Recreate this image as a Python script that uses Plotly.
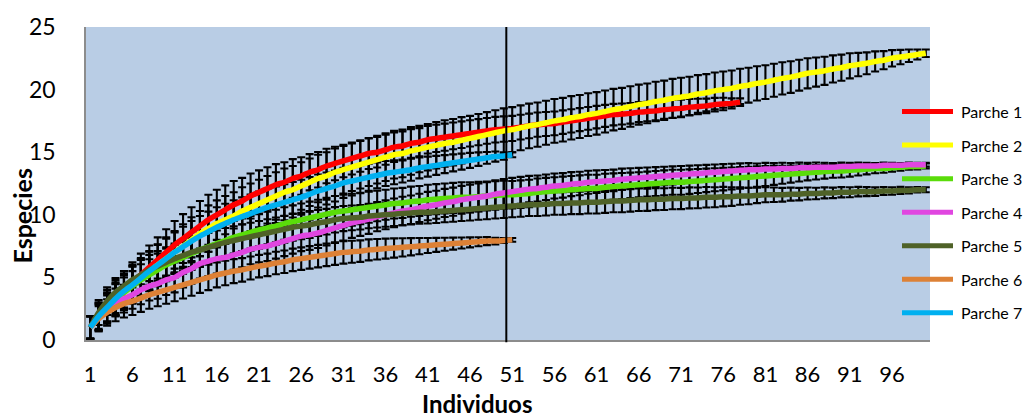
import plotly.graph_objects as go

# Rarefaction curves: expected species vs. number of individuals per patch
parche_1 = [1.0, 1.9, 2.7, 3.4, 4.0, 4.6, 5.2, 5.8, 6.4, 7.0, 7.6, 8.1, 8.6, 9.1, 9.6, 10.0, 10.4, 10.8, 11.1, 11.5,
            11.8, 12.1, 12.4, 12.6, 12.9, 13.1, 13.4, 13.6, 13.9, 14.1, 14.3, 14.5, 14.7, 14.9, 15.0, 15.2, 15.4, 15.5, 15.7, 15.8,
            16.0, 16.1, 16.2, 16.3, 16.4, 16.5, 16.6, 16.7, 16.8, 16.85, 16.9, 17.0, 17.1, 17.2, 17.25, 17.3, 17.4, 17.5, 17.6, 17.7,
            17.8, 17.9, 18.0, 18.05, 18.1, 18.2, 18.25, 18.3, 18.4, 18.45, 18.5, 18.6, 18.65, 18.7, 18.8, 18.85, 18.9, 19.0]
parche_2 = [1.0, 1.8, 2.5, 3.2, 3.8, 4.4, 5.0, 5.5, 6.0, 6.5, 7.0, 7.5, 8.0, 8.5, 8.9, 9.3, 9.6, 9.9, 10.3, 10.6,
            10.9, 11.2, 11.5, 11.8, 12.0, 12.3, 12.6, 12.9, 13.1, 13.4, 13.6, 13.8, 14.0, 14.2, 14.4, 14.6, 14.8, 14.9, 15.1, 15.25,
            15.4, 15.55, 15.7, 15.8, 15.95, 16.1, 16.25, 16.4, 16.55, 16.7, 16.8, 16.95, 17.1, 17.2, 17.35, 17.5, 17.6, 17.75, 17.85, 18.0,
            18.1, 18.25, 18.4, 18.5, 18.65, 18.8, 18.9, 19.05, 19.15, 19.3, 19.4, 19.5, 19.65, 19.75, 19.9, 20.0, 20.1, 20.25, 20.35, 20.5,
            20.6, 20.75, 20.9, 21.0, 21.15, 21.3, 21.4, 21.5, 21.65, 21.75, 21.9, 22.0, 22.1, 22.25, 22.35, 22.5, 22.6, 22.7, 22.8, 22.9]
parche_3 = [1.0, 1.9, 2.6, 3.3, 3.8, 4.3, 4.8, 5.2, 5.6, 6.0, 6.3, 6.6, 6.9, 7.2, 7.45, 7.7, 7.95, 8.2, 8.4, 8.6,
            8.8, 8.95, 9.1, 9.3, 9.45, 9.6, 9.75, 9.9, 10.05, 10.2, 10.3, 10.4, 10.5, 10.6, 10.7, 10.8, 10.9, 10.95, 11.05, 11.1,
            11.2, 11.25, 11.3, 11.35, 11.4, 11.4, 11.45, 11.5, 11.55, 11.6, 11.6, 11.65, 11.7, 11.8, 11.85, 11.9, 11.95, 12.0, 12.05, 12.1,
            12.1, 12.2, 12.25, 12.3, 12.35, 12.4, 12.45, 12.5, 12.55, 12.6, 12.6, 12.65, 12.7, 12.75, 12.8, 12.85, 12.9, 12.95, 13.0, 13.05,
            13.1, 13.15, 13.2, 13.25, 13.3, 13.35, 13.4, 13.45, 13.5, 13.5, 13.55, 13.6, 13.65, 13.7, 13.7, 13.75, 13.8, 13.85, 13.85, 13.9]
parche_4 = [1.0, 1.8, 2.5, 3.0, 3.3, 3.6, 4.0, 4.3, 4.5, 4.8, 5.0, 5.4, 5.7, 6.1, 6.3, 6.5, 6.6, 6.8, 7.0, 7.25,
            7.4, 7.5, 7.7, 7.9, 8.1, 8.3, 8.4, 8.55, 8.75, 8.95, 9.15, 9.35, 9.5, 9.65, 9.85, 10.0, 10.15, 10.3, 10.4, 10.55,
            10.7, 10.8, 10.95, 11.05, 11.2, 11.3, 11.4, 11.5, 11.65, 11.75, 11.85, 11.95, 12.05, 12.1, 12.2, 12.3, 12.35, 12.45, 12.5, 12.6,
            12.65, 12.7, 12.75, 12.85, 12.9, 12.95, 13.0, 13.05, 13.1, 13.15, 13.2, 13.25, 13.3, 13.35, 13.4, 13.45, 13.5, 13.55, 13.6, 13.6,
            13.65, 13.65, 13.7, 13.7, 13.75, 13.75, 13.8, 13.8, 13.8, 13.85, 13.85, 13.9, 13.9, 13.9, 13.95, 13.95, 13.95, 14.0, 14.0, 14.0]
parche_5 = [1.0, 2.2, 3.1, 3.8, 4.3, 4.8, 5.2, 5.6, 5.9, 6.2, 6.5, 6.75, 7.0, 7.2, 7.4, 7.6, 7.8, 7.95, 8.1, 8.25,
            8.4, 8.55, 8.7, 8.85, 9.0, 9.1, 9.2, 9.35, 9.45, 9.6, 9.7, 9.75, 9.8, 9.9, 9.95, 10.0, 10.05, 10.1, 10.15, 10.2,
            10.2, 10.25, 10.3, 10.35, 10.4, 10.45, 10.5, 10.55, 10.6, 10.65, 10.7, 10.75, 10.8, 10.8, 10.85, 10.9, 10.9, 10.95, 10.95, 11.0,
            11.0, 11.05, 11.1, 11.1, 11.15, 11.2, 11.2, 11.25, 11.25, 11.3, 11.3, 11.35, 11.35, 11.4, 11.4, 11.45, 11.45, 11.5, 11.5, 11.55,
            11.6, 11.6, 11.6, 11.65, 11.65, 11.7, 11.7, 11.75, 11.75, 11.8, 11.8, 11.85, 11.85, 11.85, 11.9, 11.9, 11.95, 11.95, 12.0, 12.0]
parche_6 = [1.0, 1.7, 2.2, 2.6, 2.9, 3.1, 3.35, 3.6, 3.8, 4.0, 4.2, 4.4, 4.6, 4.8, 5.0, 5.2, 5.35, 5.5, 5.6, 5.75,
            5.9, 6.0, 6.15, 6.25, 6.4, 6.5, 6.6, 6.7, 6.8, 6.9, 7.0, 7.05, 7.1, 7.2, 7.25, 7.3, 7.35, 7.4, 7.45, 7.5,
            7.55, 7.6, 7.65, 7.7, 7.75, 7.8, 7.85, 7.9, 7.9, 7.95, 8.0]
parche_7 = [1.0, 1.9, 2.6, 3.3, 3.9, 4.4, 4.95, 5.5, 6.0, 6.5, 7.0, 7.45, 7.9, 8.3, 8.65, 9.0, 9.3, 9.6, 9.85, 10.1,
            10.35, 10.6, 10.8, 11.0, 11.2, 11.4, 11.65, 11.9, 12.1, 12.3, 12.55, 12.7, 12.85, 13.0, 13.15, 13.3, 13.4, 13.5, 13.6, 13.75,
            13.85, 13.95, 14.05, 14.15, 14.25, 14.35, 14.45, 14.55, 14.65, 14.7, 14.8]

# Standard deviations drawn as error bars
sd_1 = [0.9, 1.1, 1.3, 1.4, 1.5, 1.6, 1.7, 1.75, 1.8, 1.85, 1.9, 1.95, 2.0, 2.0, 2.0, 2.0, 1.95, 1.9, 1.85, 1.8,
        1.75, 1.7, 1.65, 1.6, 1.55, 1.5, 1.45, 1.42, 1.38, 1.34, 1.3, 1.28, 1.26, 1.24, 1.22, 1.2, 1.18, 1.16, 1.14, 1.12,
        1.1, 1.09, 1.08, 1.07, 1.06, 1.05, 1.04, 1.03, 1.02, 1.01, 1.0, 0.99, 0.98, 0.97, 0.96, 0.95, 0.94, 0.93, 0.92, 0.91,
        0.9, 0.88, 0.86, 0.84, 0.82, 0.8, 0.78, 0.76, 0.74, 0.72, 0.7, 0.66, 0.62, 0.58, 0.54, 0.5, 0.4, 0.3]
sd_2 = [0.9, 1.1, 1.2, 1.3, 1.4, 1.5, 1.55, 1.6, 1.65, 1.7, 1.7, 1.75, 1.8, 1.8, 1.85, 1.85, 1.9, 1.9, 1.9, 1.9,
        1.9, 1.9, 1.9, 1.9, 1.9, 1.9, 1.9, 1.9, 1.9, 1.9, 1.9, 1.9, 1.9, 1.9, 1.9, 1.9, 1.9, 1.9, 1.9, 1.85,
        1.85, 1.85, 1.85, 1.85, 1.85, 1.8, 1.8, 1.8, 1.8, 1.8, 1.8, 1.79, 1.78, 1.77, 1.76, 1.75, 1.74, 1.73, 1.72, 1.71,
        1.7, 1.68, 1.66, 1.64, 1.62, 1.6, 1.59, 1.58, 1.57, 1.56, 1.55, 1.53, 1.51, 1.49, 1.47, 1.45, 1.43, 1.41, 1.39, 1.37,
        1.35, 1.32, 1.29, 1.26, 1.23, 1.2, 1.16, 1.12, 1.08, 1.04, 1.0, 0.93, 0.87, 0.8, 0.72, 0.65, 0.57, 0.5, 0.4, 0.3]
sd_3 = [0.9, 1.0, 1.1, 1.15, 1.2, 1.2, 1.25, 1.25, 1.3, 1.3, 1.3, 1.3, 1.3, 1.3, 1.3, 1.3, 1.3, 1.3, 1.3, 1.3,
        1.3, 1.3, 1.3, 1.3, 1.3, 1.3, 1.3, 1.3, 1.3, 1.3, 1.3, 1.28, 1.26, 1.24, 1.22, 1.2, 1.2, 1.2, 1.2, 1.2,
        1.2, 1.2, 1.2, 1.2, 1.2, 1.2, 1.18, 1.16, 1.14, 1.12, 1.1, 1.1, 1.1, 1.1, 1.1, 1.1, 1.1, 1.1, 1.1, 1.1,
        1.1, 1.08, 1.06, 1.04, 1.02, 1.0, 1.0, 1.0, 1.0, 1.0, 1.0, 0.98, 0.96, 0.94, 0.92, 0.9, 0.88, 0.86, 0.84, 0.82,
        0.8, 0.76, 0.72, 0.68, 0.64, 0.6, 0.58, 0.56, 0.54, 0.52, 0.5, 0.46, 0.42, 0.38, 0.34, 0.3, 0.28, 0.25, 0.22, 0.2]
sd_4 = [0.9, 1.0, 1.05, 1.1, 1.1, 1.1, 1.15, 1.15, 1.2, 1.2, 1.2, 1.2, 1.2, 1.2, 1.2, 1.2, 1.2, 1.2, 1.2, 1.2,
        1.2, 1.2, 1.2, 1.2, 1.2, 1.2, 1.2, 1.2, 1.2, 1.2, 1.2, 1.19, 1.18, 1.17, 1.16, 1.15, 1.15, 1.14, 1.14, 1.13,
        1.13, 1.12, 1.12, 1.12, 1.11, 1.11, 1.11, 1.1, 1.1, 1.1, 1.1, 1.08, 1.06, 1.04, 1.02, 1.0, 0.98, 0.96, 0.94, 0.92,
        0.9, 0.88, 0.86, 0.84, 0.82, 0.8, 0.78, 0.76, 0.74, 0.72, 0.7, 0.68, 0.66, 0.64, 0.62, 0.6, 0.58, 0.56, 0.53, 0.5,
        0.5, 0.48, 0.46, 0.44, 0.42, 0.4, 0.38, 0.36, 0.34, 0.32, 0.3, 0.28, 0.26, 0.24, 0.22, 0.2, 0.19, 0.18, 0.16, 0.15]
sd_5 = [0.9, 1.0, 1.1, 1.15, 1.2, 1.2, 1.2, 1.2, 1.2, 1.2, 1.2, 1.19, 1.18, 1.17, 1.16, 1.15, 1.14, 1.13, 1.12, 1.11,
        1.1, 1.09, 1.08, 1.07, 1.06, 1.05, 1.04, 1.03, 1.02, 1.01, 1.0, 0.99, 0.98, 0.97, 0.96, 0.95, 0.94, 0.93, 0.92, 0.91,
        0.9, 0.9, 0.9, 0.9, 0.9, 0.9, 0.9, 0.9, 0.9, 0.9, 0.9, 0.9, 0.9, 0.9, 0.9, 0.9, 0.9, 0.9, 0.9, 0.9,
        0.9, 0.9, 0.9, 0.9, 0.9, 0.9, 0.89, 0.88, 0.87, 0.86, 0.85, 0.84, 0.83, 0.82, 0.8, 0.78, 0.74, 0.7, 0.66, 0.62,
        0.6, 0.58, 0.55, 0.52, 0.5, 0.48, 0.46, 0.44, 0.42, 0.41, 0.4, 0.38, 0.36, 0.34, 0.32, 0.3, 0.28, 0.25, 0.22, 0.2]
sd_6 = [0.9, 1.0, 1.05, 1.1, 1.1, 1.1, 1.1, 1.1, 1.1, 1.1, 1.1, 1.08, 1.06, 1.04, 1.02, 1.0, 0.98, 0.96, 0.94, 0.92,
        0.9, 0.9, 0.9, 0.9, 0.9, 0.9, 0.9, 0.9, 0.9, 0.9, 0.9, 0.88, 0.86, 0.84, 0.82, 0.8, 0.77, 0.73, 0.69, 0.65,
        0.6, 0.56, 0.52, 0.48, 0.44, 0.4, 0.36, 0.32, 0.26, 0.2, 0.15]
sd_7 = [0.9, 1.1, 1.2, 1.3, 1.4, 1.45, 1.5, 1.55, 1.6, 1.6, 1.6, 1.6, 1.6, 1.6, 1.6, 1.6, 1.58, 1.56, 1.54, 1.52,
        1.5, 1.48, 1.46, 1.44, 1.42, 1.4, 1.36, 1.32, 1.28, 1.24, 1.2, 1.16, 1.12, 1.08, 1.04, 1.0, 0.96, 0.92, 0.88, 0.84,
        0.8, 0.76, 0.72, 0.68, 0.64, 0.6, 0.54, 0.47, 0.4, 0.3, 0.2]

series_names = ["Parche 1", "Parche 2", "Parche 3", "Parche 4", "Parche 5", "Parche 6", "Parche 7"]
series_values = [parche_1, parche_2, parche_3, parche_4, parche_5, parche_6, parche_7]
series_sd = [sd_1, sd_2, sd_3, sd_4, sd_5, sd_6, sd_7]
series_colors = ["#FF0000", "#FFFF00", "#5ADC0A", "#E046E0", "#4F6228", "#DD8136", "#00B0F0"]

x_tick_values = list(range(1, 100, 5))
y_tick_values = [0, 5, 10, 15, 20, 25]
marker_line_at = 50.3

FONT = "Lato"

fig = go.Figure()

# error bars first, so the coloured curves sit on top of the hatching
for vals, sd in zip(series_values, series_sd):
    xs = list(range(1, len(vals) + 1))
    fig.add_trace(go.Scatter(
        x=xs, y=vals, mode="markers",
        marker=dict(size=1, color="rgba(0,0,0,0)"),
        error_y=dict(type="data", array=sd, symmetric=True, color="#000000",
                     thickness=2.1, width=4),
        showlegend=False, hoverinfo="skip",
    ))

for name, vals, color in zip(series_names, series_values, series_colors):
    xs = list(range(1, len(vals) + 1))
    fig.add_trace(go.Scatter(
        x=xs, y=vals, mode="lines", name=name,
        line=dict(color=color, width=5.5, shape="spline", smoothing=0.6),
        showlegend=False,
    ))

# vertical reference line at ~51 individuals
fig.add_shape(type="line", xref="x", yref="paper", x0=marker_line_at, x1=marker_line_at,
              y0=-0.007, y1=1, line=dict(color="#000000", width=2))

# hand-placed legend on the right
plot_l, plot_r, plot_t, plot_b = 86, 930, 18, 340
W = plot_r - plot_l
H = plot_b - plot_t


def px_x(px):
    return (px - plot_l) / W


def px_y(py):
    return (plot_b - py) / H


for i, (name, color) in enumerate(zip(series_names, series_colors)):
    cy = 105 + i * 34.5
    fig.add_shape(type="line", xref="paper", yref="paper",
                  x0=px_x(902), x1=px_x(953), y0=px_y(cy), y1=px_y(cy),
                  line=dict(color=color, width=5))
    fig.add_annotation(xref="paper", yref="paper", x=px_x(959), y=px_y(cy),
                       text=name, showarrow=False, xanchor="left", yanchor="middle",
                       font=dict(family=FONT, size=16, color="#000000"))

# axis titles
fig.add_annotation(xref="paper", yref="paper", x=px_x(477), y=px_y(405),
                   text="<b>Individuos</b>", showarrow=False, xanchor="center", yanchor="middle",
                   font=dict(family=FONT, size=24, color="#000000"))
fig.add_annotation(xref="paper", yref="paper", x=px_x(22), y=px_y(213),
                   text="<b>Especies</b>", showarrow=False, textangle=-90,
                   xanchor="center", yanchor="middle",
                   font=dict(family=FONT, size=25, color="#000000"))

fig.update_layout(
    width=1029, height=418,
    margin=dict(l=plot_l, r=1029 - plot_r, t=plot_t, b=418 - plot_b),
    paper_bgcolor="#FFFFFF",
    plot_bgcolor="#B9CDE5",
    showlegend=False,
    font=dict(family=FONT, color="#000000"),
)
fig.update_xaxes(
    range=[0.5, 100.5], tickmode="array", tickvals=x_tick_values,
    ticktext=[str(v) for v in x_tick_values],
    showgrid=False, zeroline=False, showline=True, linecolor="#8C8C8C", linewidth=1.5,
    ticks="", ticklabelstandoff=14, tickfont=dict(family=FONT, size=22, color="#000000"),
)
fig.update_yaxes(
    range=[0, 25], tickmode="array", tickvals=y_tick_values,
    showgrid=False, zeroline=False, showline=True, linecolor="#8C8C8C", linewidth=1.5,
    ticks="", ticklabelstandoff=24, tickfont=dict(family=FONT, size=23, color="#000000"),
)

fig.write_html("out.html")
